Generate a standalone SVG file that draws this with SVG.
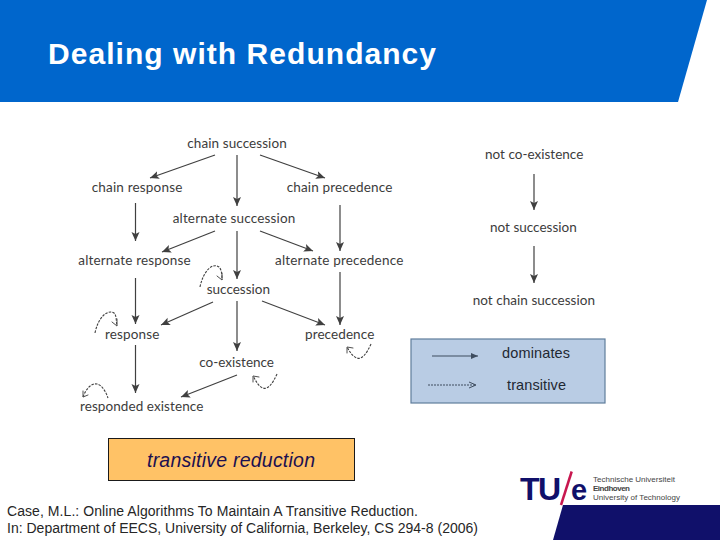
<svg xmlns="http://www.w3.org/2000/svg" width="720" height="540" viewBox="0 0 720 540">
<style>
.n{font-family:Lato,"Open Sans","Liberation Sans",sans-serif;font-size:13.5px;fill:#3c3c3c}
.c{font-family:"Liberation Sans",Arial,sans-serif;font-size:14px;fill:#262626}
.l{font-family:"Liberation Sans",Arial,sans-serif;font-size:14.5px;fill:#1f2833}
.e{fill:none;stroke:#404040;stroke-width:1.2;marker-end:url(#a)}
.d{fill:none;stroke:#404040;stroke-width:1.1;stroke-dasharray:2.5 1.2}
.o{fill:none;stroke:#505050;stroke-width:1;stroke-linecap:round}
.s{font-family:"Liberation Sans",Arial,sans-serif;font-size:8px;fill:#444}
</style>
<defs>
<marker id="a" markerUnits="userSpaceOnUse" markerWidth="12" markerHeight="10" refX="9" refY="4" orient="auto"><path d="M0 0L9 4L0 8L2 4Z" fill="#404040"/></marker>
</defs>
<rect width="720" height="540" fill="#fff"/>
<g id="header">
<polygon points="0,0 707,0 678,102 0,102" fill="#0066cc"/>
<text x="48" y="64" font-family="Liberation Sans,Arial,sans-serif" font-weight="700" font-size="30" fill="#fff" textLength="388">Dealing with Redundancy</text>
</g>
<g id="connectors">
<path class="e" d="M215 155L150 178"/>
<path class="e" d="M237 155V206"/>
<path class="e" d="M260 155L325 178"/>
<path class="e" d="M135.500 203V241"/>
<path class="e" d="M340 205V251"/>
<path class="e" d="M215 231L162 252"/>
<path class="e" d="M237 231V279"/>
<path class="e" d="M260 231L313 251"/>
<path class="e" d="M135.500 278V324"/>
<path class="e" d="M340 272V325"/>
<path class="e" d="M213 302L161 325"/>
<path class="e" d="M237 301V351"/>
<path class="e" d="M262 301L325 325"/>
<path class="e" d="M135.500 345V393"/>
<path class="e" d="M237 375L181 397"/>
<path class="e" d="M534 174V210"/>
<path class="e" d="M534 246V283"/>
<path class="d" d="M200 287C203 272 212 262 219 267C222 270 222 276 222 280"/>
<path class="o" d="M217 276L222 280L222 273"/>
<path class="d" d="M95 333C98 318 107 309 114 313C117 316 116 322 117 326"/>
<path class="o" d="M112 322L117 326L117 319"/>
<path class="d" d="M371 344C367 353 362 360 357 358C352 356 350 352 347 347"/>
<path class="o" d="M347 353L347 347L353 348"/>
<path class="d" d="M277 374C273 383 268 390 263 388C258 386 256 381 253 376"/>
<path class="o" d="M253 382L253 376L259 377"/>
<path class="d" d="M83 397C86 389 91 383 97 384C102 385 106 392 108 398"/>
<path class="o" d="M83 391L83 397L88 395"/>
</g>
<g id="chain-succession"><text class="n" x="187.300" y="148" textLength="99.400">chain succession</text></g>
<g id="chain-response"><text class="n" x="91.700" y="192" textLength="90.600">chain response</text></g>
<g id="chain-precedence"><text class="n" x="286.700" y="192" textLength="105.600">chain precedence</text></g>
<g id="alternate-succession"><text class="n" x="172.700" y="223" textLength="122.600">alternate succession</text></g>
<g id="alternate-response"><text class="n" x="78.300" y="265" textLength="112.400">alternate response</text></g>
<g id="alternate-precedence"><text class="n" x="275" y="265" textLength="128.300">alternate precedence</text></g>
<g id="succession"><text class="n" x="206.700" y="294" textLength="63.300">succession</text></g>
<g id="response"><text class="n" x="105" y="339" textLength="54.300">response</text></g>
<g id="precedence"><text class="n" x="305" y="339" textLength="69.300">precedence</text></g>
<g id="co-existence"><text class="n" x="199.300" y="367" textLength="74.700">co-existence</text></g>
<g id="responded-existence"><text class="n" x="80" y="411" textLength="123.300">responded existence</text></g>
<g id="not-co-existence"><text class="n" x="485" y="159" textLength="98.300">not co-existence</text></g>
<g id="not-succession"><text class="n" x="490" y="232" textLength="86.700">not succession</text></g>
<g id="not-chain-succession"><text class="n" x="472.700" y="305" textLength="122.300">not chain succession</text></g>
<g id="legend">
<rect x="411" y="339" width="194" height="64" fill="#b9cce4" stroke="#5f7d9c" stroke-width="1.200"/>
<path d="M432 356H478" stroke="#3f4d5f" stroke-width="1.200" fill="none"/>
<path d="M471 353L478 356L471 359Z" fill="#3f4d5f"/>
<path d="M428 385H475" stroke="#3f4d5f" stroke-width="1" stroke-dasharray="2 1" fill="none"/>
<path d="M469 382L476 385L469 388" stroke="#3f4d5f" stroke-width="1" fill="none"/>
<text class="l" x="502" y="358" textLength="68">dominates</text>
<text class="l" x="507" y="389.500" textLength="59">transitive</text>
</g>
<g id="transitive-reduction">
<rect x="108.500" y="438.500" width="246" height="42" fill="#ffc266" stroke="#1a1a1a" stroke-width="1"/>
<text x="147" y="467" font-family="Liberation Sans,Arial,sans-serif" font-style="italic" font-size="19.500" fill="#1c1050" textLength="168">transitive reduction</text>
</g>
<g id="citation">
<text class="c" x="7" y="516" textLength="411">Case, M.L.: Online Algorithms To Maintain A Transitive Reduction.</text>
<text class="c" x="7" y="533" textLength="471">In: Department of EECS, University of California, Berkeley, CS 294-8 (2006)</text>
</g>
<g id="footer">
<polygon points="563,505 720,505 720,540 553,540" fill="#10106a"/>
<text x="520" y="499.500" font-family="Liberation Sans,Arial,sans-serif" font-weight="700" font-size="32" fill="#10106a" textLength="41">TU</text>
<path d="M571.700 471.500L561 505" stroke="#c8174f" stroke-width="2.500" fill="none"/>
<text x="571" y="499.500" font-family="Liberation Sans,Arial,sans-serif" font-weight="700" font-size="29" fill="#10106a" textLength="15">e</text>
<text class="s" x="593" y="482" textLength="82">Technische Universiteit</text>
<text class="s" x="593" y="490.500" font-weight="700" textLength="37" fill="#222">Eindhoven</text>
<text class="s" x="593" y="499.500" textLength="87">University of Technology</text>
</g>
</svg>
